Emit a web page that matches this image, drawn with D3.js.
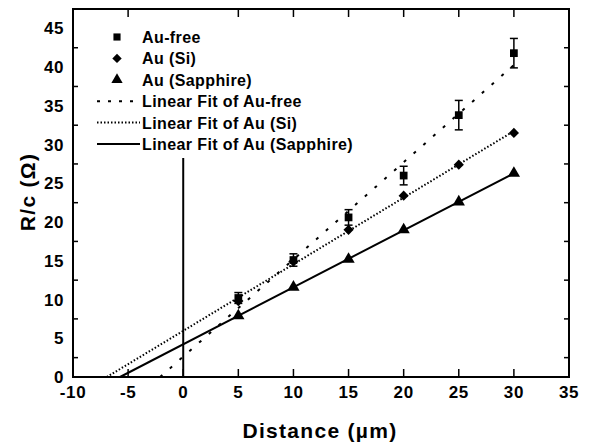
<!DOCTYPE html>
<html>
<head>
<meta charset="utf-8">
<script src="https://cdn.jsdelivr.net/npm/d3@7"></script>
<style>
  body { margin: 0; background: #fff; }
  text { font-family: Arial, "Liberation Sans", sans-serif; font-weight: bold; fill: #000; }
</style>
</head>
<body>
<svg id="chart" width="590" height="443"></svg>
<script>
// values
const distance = [5, 10, 15, 20, 25, 30];
const auFree = [10.2, 15.1, 20.6, 26.0, 33.8, 41.8];
const auFreeErr = [0.7, 0.8, 1.0, 1.2, 1.9, 1.9];
const auSi = [9.8, 14.9, 19.0, 23.4, 27.4, 31.5];
const auSapphire = [7.9, 11.6, 15.2, 19.0, 22.6, 26.3];

const xTicks = [-10, -5, 0, 5, 10, 15, 20, 25, 30, 35];
const yLabels = [0, 5, 10, 15, 20, 25, 30, 35, 40, 45];
const yTicks = [2.5, 7.5, 12.5, 17.5, 22.5, 27.5, 32.5, 37.5, 42.5];

const legendLabels = ["Au-free", "Au (Si)", "Au (Sapphire)",
  "Linear Fit of Au-free", "Linear Fit of Au (Si)", "Linear Fit of Au (Sapphire)"];

const margin = {top: 9, right: 21, bottom: 66, left: 73};
const width = 590 - margin.left - margin.right;
const height = 443 - margin.top - margin.bottom;

const svg = d3.select("#chart");
const g = svg.append("g").attr("transform", `translate(${margin.left},${margin.top})`);

const x = d3.scaleLinear().domain([-10, 35]).range([0, width]);
const y = d3.scaleLinear().domain([0, 47.5]).range([height, 0]);

// least squares fit
function linFit(xs, ys) {
  const mx = d3.mean(xs), my = d3.mean(ys);
  let sxy = 0, sxx = 0;
  xs.forEach((v, i) => { sxy += (v - mx) * (ys[i] - my); sxx += (v - mx) * (v - mx); });
  const slope = sxy / sxx;
  return {slope: slope, intercept: my - slope * mx};
}

// diamond = square turned 45 degrees (d3's diamond is too narrow)
const series = [
  {vals: auFree, err: auFreeErr, shape: d3.symbolSquare, size: 60, rot: 0, dash: "3,10"},
  {vals: auSi, shape: d3.symbolSquare, size: 52, rot: 45, dash: "1.5,2"},
  {vals: auSapphire, shape: d3.symbolTriangle, size: 65, rot: 0, dash: null}
];

// zero reference line
g.append("line")
  .attr("x1", x(0)).attr("x2", x(0))
  .attr("y1", y(0)).attr("y2", 149)
  .attr("stroke", "#000").attr("stroke-width", 2);

// fit lines
series.forEach(s => {
  const f = linFit(distance, s.vals);
  const x0 = -f.intercept / f.slope;
  const line = g.append("line")
    .attr("x1", x(x0)).attr("y1", y(0))
    .attr("x2", x(30)).attr("y2", y(f.intercept + f.slope * 30))
    .attr("stroke", "#000").attr("stroke-width", 2);
  if (s.dash) line.attr("stroke-dasharray", s.dash);
});

// error bars
distance.forEach((d, i) => {
  const lo = y(auFree[i] - auFreeErr[i]), hi = y(auFree[i] + auFreeErr[i]);
  g.append("line").attr("x1", x(d)).attr("x2", x(d)).attr("y1", lo).attr("y2", hi)
    .attr("stroke", "#000").attr("stroke-width", 1.5);
  [lo, hi].forEach(v => {
    g.append("line").attr("x1", x(d) - 4).attr("x2", x(d) + 4).attr("y1", v).attr("y2", v)
      .attr("stroke", "#000").attr("stroke-width", 1.5);
  });
});

// markers
series.forEach(s => {
  g.selectAll(null).data(s.vals).enter().append("path")
    .attr("d", d3.symbol().type(s.shape).size(s.size))
    .attr("transform", (v, i) => `translate(${x(distance[i])},${y(v)}) rotate(${s.rot})`)
    .attr("fill", "#000");
});

// frame
g.append("rect").attr("width", width).attr("height", height)
  .attr("fill", "none").attr("stroke", "#000").attr("stroke-width", 2);

// ticks, all pointing inwards
xTicks.slice(1, -1).forEach(t => {
  g.append("line").attr("x1", x(t)).attr("x2", x(t)).attr("y1", height).attr("y2", height - 8)
    .attr("stroke", "#000").attr("stroke-width", 1.5);
  if (t !== 0) {
    g.append("line").attr("x1", x(t)).attr("x2", x(t)).attr("y1", 0).attr("y2", 8)
      .attr("stroke", "#000").attr("stroke-width", 1.5);
  }
});
yTicks.forEach(t => {
  g.append("line").attr("x1", 0).attr("x2", 5).attr("y1", y(t)).attr("y2", y(t))
    .attr("stroke", "#000").attr("stroke-width", 1.5);
  g.append("line").attr("x1", width).attr("x2", width - 5).attr("y1", y(t)).attr("y2", y(t))
    .attr("stroke", "#000").attr("stroke-width", 1.5);
});

// tick labels
g.selectAll(null).data(xTicks).enter().append("text")
  .attr("x", d => x(d)).attr("y", height + 21)
  .attr("text-anchor", "middle")
  .style("font-size", "17px").style("letter-spacing", "0.6px")
  .text(d => d);

g.selectAll(null).data(yLabels).enter().append("text")
  .attr("x", -9).attr("y", d => y(d) + 6)
  .attr("text-anchor", "end")
  .style("font-size", "17px").style("letter-spacing", "0.6px")
  .text(d => d);

// axis titles
svg.append("text")
  .attr("x", 320).attr("y", 438)
  .attr("text-anchor", "middle")
  .style("font-size", "21px").style("letter-spacing", "1.3px")
  .text("Distance (\u00b5m)");

svg.append("text")
  .attr("transform", "translate(35,192) rotate(-90)")
  .attr("text-anchor", "middle")
  .style("font-size", "21px").style("letter-spacing", "1.3px")
  .text("R/c (\u03a9)");

// legend
const legend = svg.append("g").attr("transform", "translate(97,37)");
const rowH = 21.4;
series.forEach((s, i) => {
  legend.append("path")
    .attr("d", d3.symbol().type(s.shape).size(s.size * 0.85))
    .attr("transform", `translate(20,${i * rowH}) rotate(${s.rot})`)
    .attr("fill", "#000");
});
series.forEach((s, i) => {
  const ln = legend.append("line")
    .attr("x1", 0).attr("x2", 43)
    .attr("y1", (i + 3) * rowH).attr("y2", (i + 3) * rowH)
    .attr("stroke", "#000").attr("stroke-width", 2);
  if (s.dash) ln.attr("stroke-dasharray", i === 0 ? "3,8" : s.dash);
});
legend.selectAll(null).data(legendLabels).enter().append("text")
  .attr("x", 45).attr("y", (d, i) => i * rowH + 6)
  .style("font-size", "16px").style("letter-spacing", "0.4px")
  .text(d => d);
</script>
</body>
</html>
